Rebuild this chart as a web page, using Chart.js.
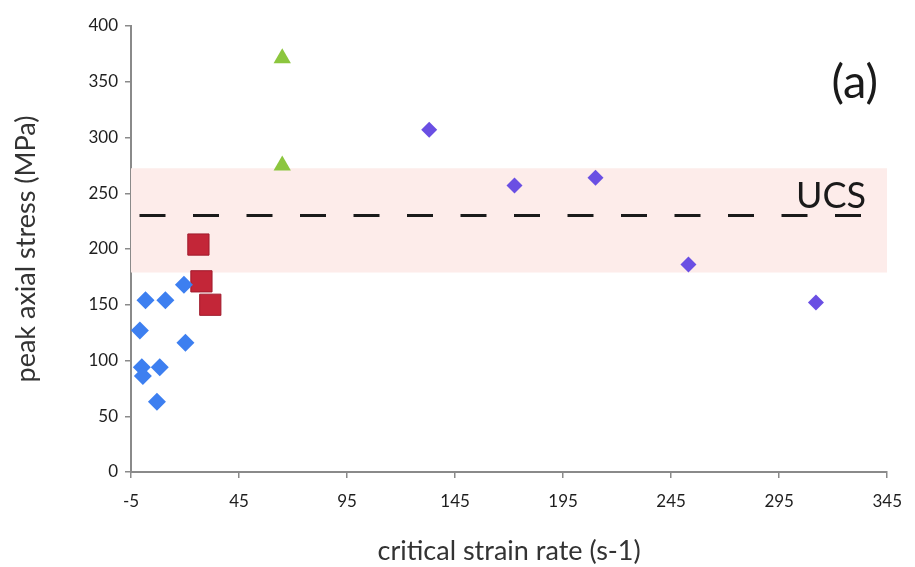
<!DOCTYPE html>
<html>
<head>
<meta charset="utf-8">
<script src="https://cdn.jsdelivr.net/npm/chart.js@4.4.1/dist/chart.umd.min.js"></script>
<style>
  html, body { margin: 0; padding: 0; background: #fff; }
  #wrap { width: 915px; height: 567px; }
</style>
</head>
<body>
<div id="wrap"><canvas id="chart" width="915" height="567"></canvas></div>
<script>
// data
const blueX = [1.7, 10.9, 19.5, -0.9, 20.2, 0, 0.5, 8.3, 7];
const blueY = [154, 154, 168, 127, 116, 94, 86, 94, 63];
const redX = [26.2, 27.6, 31.7];
const redY = [204, 171, 150];
const greenX = [65, 65];
const greenY = [371, 275];
const purpleX = [133, 172.5, 210, 253, 312];
const purpleY = [307, 257, 264, 186, 152];

const ucsValue = 230;
const ucsBand = [179, 272.5];
const xRange = [-5, 345];
const xTicks = [-5, 45, 95, 145, 195, 245, 295, 345];
const yTicks = [0, 50, 100, 150, 200, 250, 300, 350, 400];

const pts = (xs, ys) => xs.map((x, i) => ({ x: x, y: ys[i] }));

const FONT = "Lato, 'Open Sans', sans-serif";

// text labels UCS and (a)
const labelsPlugin = {
    id: 'labels',
    afterDatasetsDraw(chart) {
        const ctx = chart.ctx;
        const xs = chart.scales.x, ys = chart.scales.y;
        ctx.save();
        ctx.fillStyle = '#1a1a1a';
        ctx.textAlign = 'center';
        ctx.textBaseline = 'middle';
        ctx.font = "36px " + FONT;
        ctx.fillText('UCS', xs.getPixelForValue(319), ys.getPixelForValue(247));
        ctx.font = "47px " + FONT;
        ctx.fillText('(a)', xs.getPixelForValue(330), ys.getPixelForValue(349));
        ctx.restore();
    }
};

new Chart(document.getElementById('chart'), {
    type: 'scatter',
    data: {
        datasets: [
            {
                label: 'blue',
                data: pts(blueX, blueY),
                pointStyle: 'rectRot',
                pointRadius: 9,
                backgroundColor: '#3d7ff0',
                borderColor: '#3d7ff0',
                borderWidth: 0
            },
            {
                label: 'red',
                data: pts(redX, redY),
                pointStyle: 'rect',
                pointRadius: 15,
                backgroundColor: '#c32638',
                borderColor: '#a01a2c',
                borderWidth: 1
            },
            {
                label: 'green',
                data: pts(greenX, greenY),
                pointStyle: 'triangle',
                pointRadius: 10,
                backgroundColor: '#8cc63e',
                borderColor: '#8cc63e',
                borderWidth: 0
            },
            {
                label: 'purple',
                data: pts(purpleX, purpleY),
                pointStyle: 'rectRot',
                pointRadius: 8,
                backgroundColor: '#6a4fe3',
                borderColor: '#6a4fe3',
                borderWidth: 0
            },
            {
                type: 'line',
                label: 'UCS',
                data: pts(xRange, [ucsValue, ucsValue]),
                borderColor: '#1a1a1a',
                borderWidth: 3,
                borderDash: [26, 27.5],
                borderDashOffset: 45,
                pointRadius: 0,
                fill: false,
                order: 5
            },
            {
                type: 'line',
                label: 'band',
                data: pts(xRange, [ucsBand[1], ucsBand[1]]),
                borderWidth: 0,
                borderColor: 'rgba(0,0,0,0)',
                backgroundColor: '#fdecea',
                pointRadius: 0,
                fill: { value: ucsBand[0] },
                order: 10
            }
        ]
    },
    options: {
        responsive: false,
        animation: false,
        layout: { padding: { top: 26, right: 12, left: 0, bottom: 0 } },
        plugins: {
            legend: { display: false },
            tooltip: { enabled: false }
        },
        scales: {
            x: {
                type: 'linear',
                min: xRange[0],
                max: xRange[1],
                afterBuildTicks: (s) => { s.ticks = xTicks.map(v => ({ value: v })); },
                afterFit: (s) => { s.height = 95; },
                grid: { drawOnChartArea: false, drawTicks: true, tickLength: 6, color: '#8a8a8a', lineWidth: 1.5 },
                border: { color: '#8a8a8a', width: 2 },
                ticks: { color: '#1e1e1e', font: { family: FONT, size: 17 }, padding: 13, maxRotation: 0 },
                title: {
                    display: true,
                    text: 'critical strain rate (s-1)',
                    color: '#333',
                    font: { family: FONT, size: 27 },
                    padding: { top: 14, bottom: 0 }
                }
            },
            y: {
                min: 0,
                max: 400,
                afterBuildTicks: (s) => { s.ticks = yTicks.map(v => ({ value: v })); },
                afterFit: (s) => { s.width = 131; },
                grid: { drawOnChartArea: false, drawTicks: true, tickLength: 6, color: '#8a8a8a', lineWidth: 1.5 },
                border: { color: '#8a8a8a', width: 2 },
                ticks: { color: '#1e1e1e', font: { family: FONT, size: 17 }, padding: 7 },
                title: {
                    display: true,
                    text: 'peak axial stress (MPa)',
                    color: '#333',
                    font: { family: FONT, size: 27 },
                    padding: { top: 10, bottom: 6 }
                }
            }
        }
    },
    plugins: [labelsPlugin]
});
</script>
</body>
</html>
